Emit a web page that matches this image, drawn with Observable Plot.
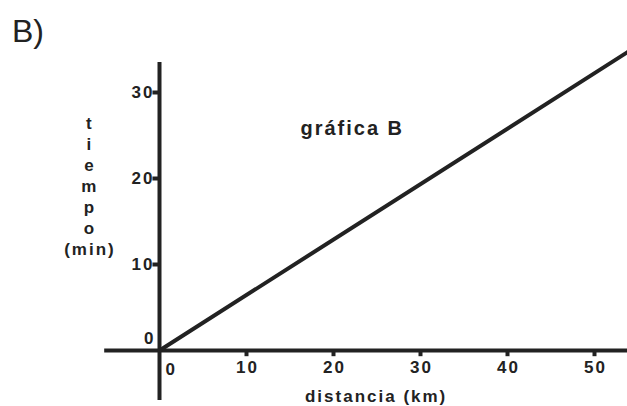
<!DOCTYPE html>
<html>
<head>
<meta charset="utf-8">
<script src="https://cdn.jsdelivr.net/npm/d3@7"></script>
<script src="https://cdn.jsdelivr.net/npm/@observablehq/plot@0.6"></script>
<style>
  html, body { margin: 0; padding: 0; background: #fff; }
  #title { height: 56px; box-sizing: border-box; padding: 15px 0 0 12px; font: 32px/32px "Liberation Sans", Arial, sans-serif; color: #222; }
  #chart svg { display: block; }
</style>
</head>
<body>
<div id="title">B)</div>
<div id="chart"></div>
<script>
// Data
const distancia = [0, 53.8];          // km
const tiempo = [0, 34.7];             // min
const xTicks = [10, 20, 30, 40, 50];
const yTicks = [10, 20, 30];
const xAxisExtent = [-6.3, 56];
const yAxisExtent = [-5.8, 33.5];
const xLabel = "distancia (km)";
const yLabel = "t\ni\ne\nm\np\no\n(min)";
const annotation = [{x: 16.2, y: 25.8, label: "gráfica B"}];

const line = distancia.map((d, i) => ({distancia: d, tiempo: tiempo[i]}));
const ink = "#222";
const font = {fontWeight: "bold", fill: ink, stroke: "none"};

const chart = Plot.plot({
  width: 627,
  height: 350,
  margin: 0,
  x: {domain: [0, 50], range: [159, 594], axis: null},
  y: {domain: [0, 30], range: [294, 36], axis: null},
  style: {fontFamily: "'Liberation Sans', Arial, sans-serif", letterSpacing: "2px", background: "#fff", overflow: "visible"},
  marks: [
    // axes lines
    Plot.ruleY([0], {x1: xAxisExtent[0], x2: xAxisExtent[1], stroke: ink, strokeWidth: 4}),
    Plot.ruleX([0], {y1: yAxisExtent[0], y2: yAxisExtent[1], stroke: ink, strokeWidth: 4}),
    // ticks
    Plot.ruleX(xTicks, {x: d => d, y1: 0, y2: -0.72, stroke: ink, strokeWidth: 4}),
    Plot.ruleY(yTicks, {y: d => d, x1: -0.75, x2: 0, stroke: ink, strokeWidth: 4}),
    // tick labels
    Plot.text(xTicks, {x: d => d, y: 0, dy: 17, dx: 1, text: d => String(d), fontSize: 17, ...font}),
    Plot.text([0], {x: d => d, y: 0, dy: 19, dx: 6, textAnchor: "start", text: d => String(d), fontSize: 17, ...font}),
    Plot.text(yTicks, {x: 0, y: d => d, dx: -5, textAnchor: "end", text: d => String(d), fontSize: 17, ...font}),
    Plot.text([0], {x: 0, y: d => d, dx: -4, dy: -12, textAnchor: "end", text: d => String(d), fontSize: 17, ...font}),
    // axis titles
    Plot.text([xLabel], {x: 24.9, y: -5.4, text: d => d, fontSize: 17, ...font}),
    Plot.text([yLabel], {x: -8.0, y: 19.2, text: d => d, fontSize: 17, lineHeight: 1.23, ...font}),
    // annotation
    Plot.text(annotation, {x: "x", y: "y", text: "label", textAnchor: "start", fontSize: 20, ...font}),
    // data line
    Plot.line(line, {x: "distancia", y: "tiempo", stroke: ink, strokeWidth: 4})
  ]
});
document.getElementById("chart").appendChild(chart);
</script>
</body>
</html>
